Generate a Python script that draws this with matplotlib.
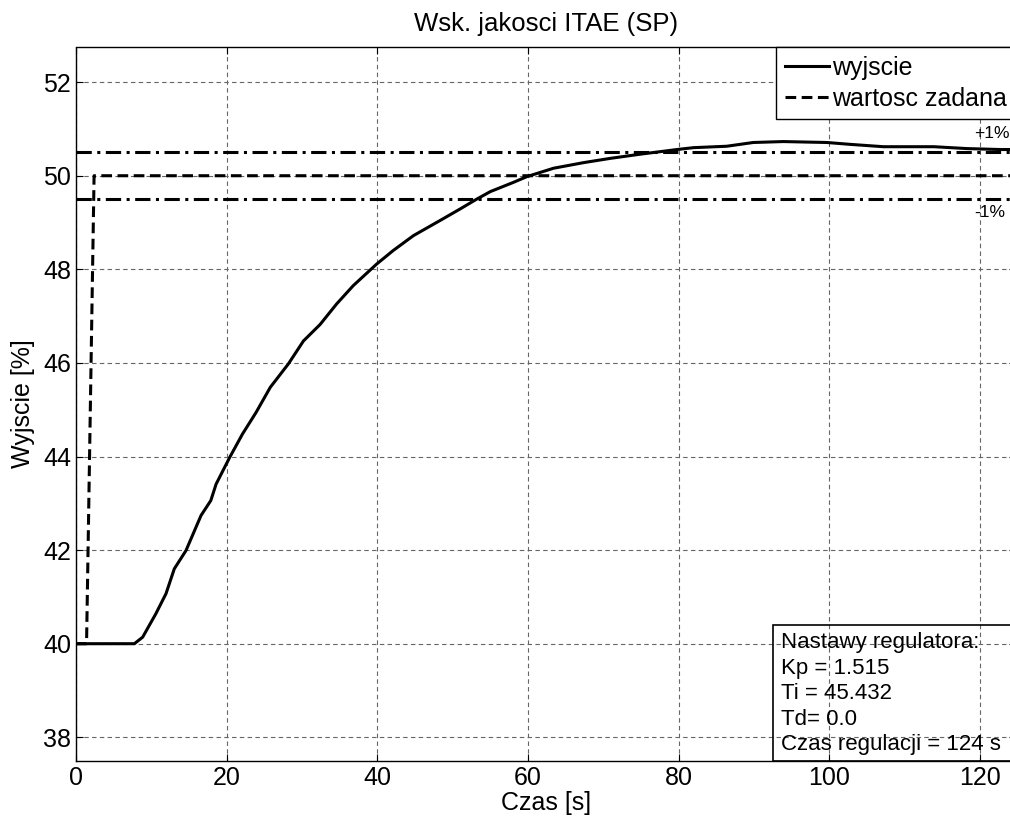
import matplotlib
matplotlib.use("Agg")
import matplotlib.pyplot as plt
from matplotlib.patches import Rectangle

# dane z wykresu
czas = [0, 7.75, 8.85, 10.6, 11.95, 13.05, 14.6, 16.6, 17.9, 18.6, 20.4, 22.1, 23.9,
        25.8, 28.2, 30.2, 32.4, 34.6, 36.8, 39.9, 42.1, 44.8, 48.3, 51.0, 53.2, 55.0,
        58.1, 59.85, 63.4, 67.4, 70.9, 74.9, 79.8, 82.0, 86.4, 89.9, 93.9, 99.7, 102.8,
        107.2, 113.9, 118.3, 122.7, 125]
wyjscie = [40.0, 40.0, 40.14, 40.64, 41.07, 41.6, 41.99, 42.74, 43.06, 43.41, 43.98,
           44.48, 44.94, 45.48, 45.98, 46.47, 46.82, 47.26, 47.65, 48.11, 48.4, 48.72,
           49.04, 49.29, 49.5, 49.66, 49.86, 49.98, 50.16, 50.28, 50.37, 50.46, 50.56,
           50.6, 50.63, 50.71, 50.73, 50.71, 50.67, 50.62, 50.62, 50.58, 50.56, 50.56]
czas_sp = [0, 1.4, 2.4, 125]
zadana = [40, 40, 50, 50]
sp = 50
tol = 0.01
xticks = [0, 20, 40, 60, 80, 100, 120]
yticks = [38, 40, 42, 44, 46, 48, 50, 52]
opis = "Nastawy regulatora:\nKp = 1.515\nTi = 45.432\nTd= 0.0\nCzas regulacji = 124 s"

plt.rcParams['font.family'] = ['Liberation Sans', 'DejaVu Sans']

fig = plt.figure(figsize=(10.1, 8.22), dpi=100)
ax = fig.add_axes([76 / 1010, 1 - 760.7 / 822, (1016 - 76) / 1010, (760.7 - 47.5) / 822])

ax.plot(czas, wyjscie, color='k', lw=2.2, label='wyjscie', zorder=3)
ax.plot(czas_sp, zadana, color='k', lw=2.2, ls=(0, (3.5, 1.8)), label='wartosc zadana', zorder=3)
ax.plot([0, 125], [sp * (1 + tol)] * 2, color='k', lw=2.2, ls=(0, (5, 1.8, 1, 1.8)), zorder=3)
ax.plot([0, 125], [sp * (1 - tol)] * 2, color='k', lw=2.2, ls=(0, (5, 1.8, 1, 1.8)), zorder=3)

ax.text(119.3, 50.9, "+1%", fontsize=12.5, va='center', ha='left')
ax.text(119.3, 49.22, "-1%", fontsize=12.5, va='center', ha='left')

ax.set_xlim(0, 124.8)
ax.set_ylim(37.5, 52.74)
ax.set_xticks(xticks)
ax.set_yticks(yticks)
ax.tick_params(direction='in', length=5, top=True, right=True, labelsize=18, width=0.8)
ax.grid(True, color='#666666', ls=(0, (4, 3)), lw=0.8)
for s in ax.spines.values():
    s.set_linewidth(1.0)

ax.set_title("Wsk. jakosci ITAE (SP)", fontsize=18.5, pad=12)
ax.set_xlabel("Czas [s]", fontsize=18, labelpad=1)
ax.set_ylabel("Wyjscie [%]", fontsize=18, labelpad=6)

leg = ax.legend(loc='upper right', bbox_to_anchor=(1, 1), borderaxespad=0, fontsize=18,
                handlelength=1.75, handletextpad=0.15, fancybox=False, framealpha=1,
                edgecolor='k', borderpad=0.35, labelspacing=0.25)
leg.get_frame().set_linewidth(1.0)

# ramka z nastawami (otwarta z prawej, jak w oryginale)
ax.add_patch(Rectangle((92.5, 37.5), 40, 2.9, fill=False, ec='k', lw=1.2,
                       clip_on=False, zorder=4))
ax.text(93.6, 37.62, opis, fontsize=16, va='bottom', ha='left', linespacing=1.28, zorder=4)

fig.savefig("out.png", dpi=100)
